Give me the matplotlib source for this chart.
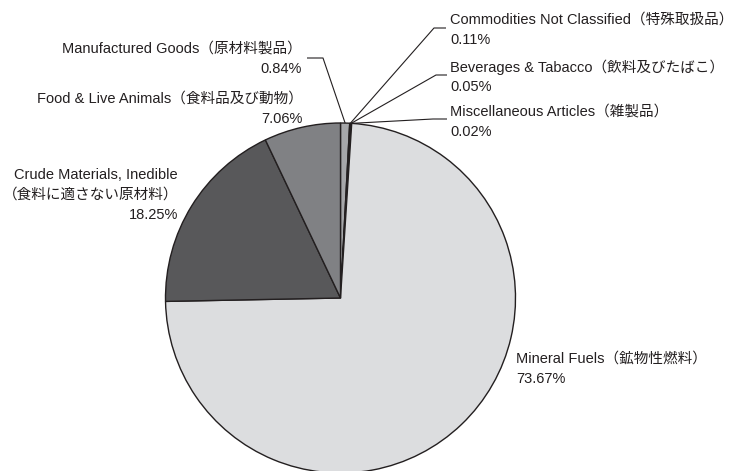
import numpy as np
import matplotlib
matplotlib.use("Agg")
import matplotlib.pyplot as plt

plt.rcParams['font.family'] = ['Liberation Sans', 'Noto Sans CJK JP', 'DejaVu Sans']

# ---- data ----
categories = [
    "Manufactured Goods（原材料製品）",
    "Commodities Not Classified（特殊取扱品）",
    "Beverages & Tabacco（飲料及びたばこ）",
    "Miscellaneous Articles（雑製品）",
    "Mineral Fuels（鉱物性燃料）",
    "Crude Materials, Inedible\n（食料に適さない原材料）",
    "Food & Live Animals（食料品及び動物）",
]
shares = [0.84, 0.11, 0.05, 0.02, 73.67, 18.25, 7.06]
pct_labels = ["0.84%", "0.11%", "0.05%", "0.02%", "73.67%", "18.25%", "7.06%"]
colors = ["#a6a7aa", "#ffffff", "#ffffff", "#ffffff", "#dcdddf", "#58585a", "#808184"]

W, H = 737, 471
fig = plt.figure(figsize=(W / 100, H / 100), dpi=100)
ax = fig.add_axes([0, 0, 1, 1])

def Y(y):
    return H - y

cx, cy, R = 340.5, 298, 175
wedges, _ = ax.pie(shares, colors=colors, startangle=90, counterclock=False,
                   center=(cx, Y(cy)), radius=R, frame=True,
                   wedgeprops=dict(edgecolor="#231f20", linewidth=1.0))
ax.set_xlim(0, W)
ax.set_ylim(0, H)
ax.set_aspect('equal')
ax.axis('off')

fs = 10.5
tc = "#231f20"

def anchor(w, rr=1.0):
    th = np.deg2rad((w.theta1 + w.theta2) / 2)
    return cx + R * rr * np.cos(th), Y(cy) + R * rr * np.sin(th)

layout = {
    0: dict(x=302, y=49, ha='right', elbow=(307, 323, 58)),
    1: dict(x=450, y=20, ha='left', elbow=(446, 434, 28)),
    2: dict(x=450, y=67, ha='left', elbow=(447, 436, 75)),
    3: dict(x=450, y=112, ha='left', elbow=(447, 433, 119)),
    4: dict(x=516, y=359, ha='left', elbow=None),
    5: dict(x=178, y=175, ha='right', elbow=None),
    6: dict(x=303, y=99, ha='right', elbow=None),
}

for i, w in enumerate(wedges):
    L = layout[i]
    lines = categories[i].split("\n") + [pct_labels[i]]
    for k, s in enumerate(lines):
        ax.text(L['x'], Y(L['y'] + 20 * k), s, ha=L['ha'], va='center',
                fontsize=fs, color=tc)
    if L['elbow'] is not None:
        xs, xe, ye = L['elbow']
        ax_, ay_ = anchor(w, 1.0)
        ax.plot([xs, xe, ax_], [Y(ye), Y(ye), ay_], color=tc, lw=0.8,
                solid_capstyle='butt')

fig.savefig("out.png", dpi=100)
